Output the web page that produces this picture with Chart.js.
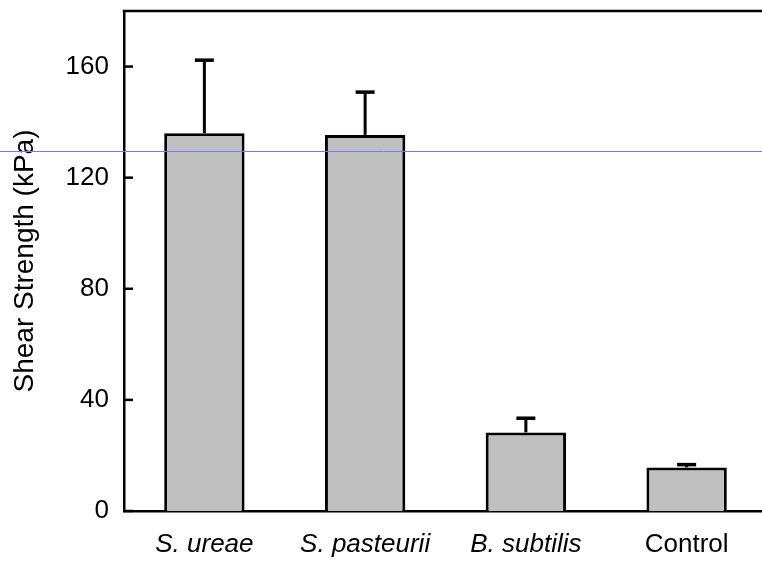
<!DOCTYPE html>
<html>
<head>
<meta charset="utf-8">
<script src="https://cdn.jsdelivr.net/npm/chart.js@4.4.0/dist/chart.umd.min.js"></script>
<style>
    html, body { margin: 0; padding: 0; background: #fff; overflow: hidden; }
    #wrap { width: 767px; height: 563px; }
</style>
</head>
<body>
<div id="wrap"><canvas id="shearChart" width="767" height="563"></canvas></div>
<script>
const categories = ["S. ureae", "S. pasteurii", "B. subtilis", "Control"];
const italicLabels = [true, true, true, false];
const shearMeans = [136.0, 135.4, 28.3, 15.7];
const shearUpper = [162.3, 150.8, 33.4, 16.7];
const yTicks = [0, 40, 80, 120, 160];
const refLineValue = 129.6;

const FONT = "'Liberation Sans', Arial, Helvetica, sans-serif";

// error bars (upper only), inward y ticks, top frame, blue guide line
const extrasPlugin = {
    id: "extras",
    afterDatasetsDraw(chart) {
        const ctx = chart.ctx;
        const y = chart.scales.y;
        const area = chart.chartArea;
        ctx.save();
        ctx.strokeStyle = "#000";
        ctx.lineCap = "butt";

        // error bars
        const meta = chart.getDatasetMeta(0);
        meta.data.forEach(function (bar, i) {
            const cx = bar.x;
            const yTop = y.getPixelForValue(shearUpper[i]);
            const yBar = y.getPixelForValue(shearMeans[i]);
            ctx.lineWidth = 3;
            ctx.beginPath();
            ctx.moveTo(cx, yBar);
            ctx.lineTo(cx, yTop);
            ctx.stroke();
            ctx.lineWidth = 3.5;
            ctx.beginPath();
            ctx.moveTo(cx - 9.5, yTop);
            ctx.lineTo(cx + 9.5, yTop);
            ctx.stroke();
        });

        // inward tick marks on y axis
        ctx.lineWidth = 2.5;
        yTicks.forEach(function (v) {
            const py = y.getPixelForValue(v);
            ctx.beginPath();
            ctx.moveTo(area.left, py);
            ctx.lineTo(area.left + 9, py);
            ctx.stroke();
        });

        // top frame line
        ctx.lineWidth = 2.5;
        ctx.beginPath();
        ctx.moveTo(area.left - 1.25, area.top);
        ctx.lineTo(chart.width, area.top);
        ctx.stroke();

        // thin blue guide line across the whole picture
        const ly = Math.round(y.getPixelForValue(refLineValue)) + 0.5;
        ctx.strokeStyle = "rgb(120,120,255)";
        ctx.lineWidth = 1;
        ctx.beginPath();
        ctx.moveTo(0, ly);
        ctx.lineTo(chart.width, ly);
        ctx.stroke();
        ctx.restore();
    },
};

const ctx = document.getElementById("shearChart").getContext("2d");
new Chart(ctx, {
    type: "bar",
    data: {
        labels: categories,
        datasets: [
            {
                data: shearMeans,
                backgroundColor: "#c0c0c0",
                borderColor: "#000",
                borderWidth: 3,
                categoryPercentage: 1.0,
                barPercentage: 0.5,
            },
        ],
    },
    options: {
        responsive: false,
        animation: false,
        layout: { padding: { top: 11, right: 0, left: 0, bottom: 0 } },
        plugins: {
            legend: { display: false },
            tooltip: { enabled: false },
        },
        scales: {
            x: {
                grid: { display: false, drawTicks: false },
                border: { color: "#000", width: 2.5 },
                ticks: {
                    color: "#000",
                    padding: 18,
                    font: function (c) {
                        return {
                            family: FONT,
                            size: 26,
                            style: italicLabels[c.index] ? "italic" : "normal",
                        };
                    },
                },
                afterFit: function (s) {
                    s.height = 52;
                    s.paddingLeft = 0;
                    s.paddingRight = 0;
                },
            },
            y: {
                min: 0,
                max: 180,
                grid: { display: false, drawTicks: false },
                border: { color: "#000", width: 2.5 },
                ticks: {
                    stepSize: 40,
                    includeBounds: false,
                    color: "#000",
                    padding: 15,
                    font: { family: FONT, size: 26 },
                },
                title: {
                    display: true,
                    text: "Shear Strength (kPa)",
                    color: "#000",
                    font: { family: FONT, size: 28 },
                    padding: { top: 8, bottom: 0 },
                },
                afterFit: function (s) {
                    s.width = 124;
                    s.paddingTop = 0;
                    s.paddingBottom = 0;
                },
            },
        },
    },
    plugins: [extrasPlugin],
});
</script>
</body>
</html>
